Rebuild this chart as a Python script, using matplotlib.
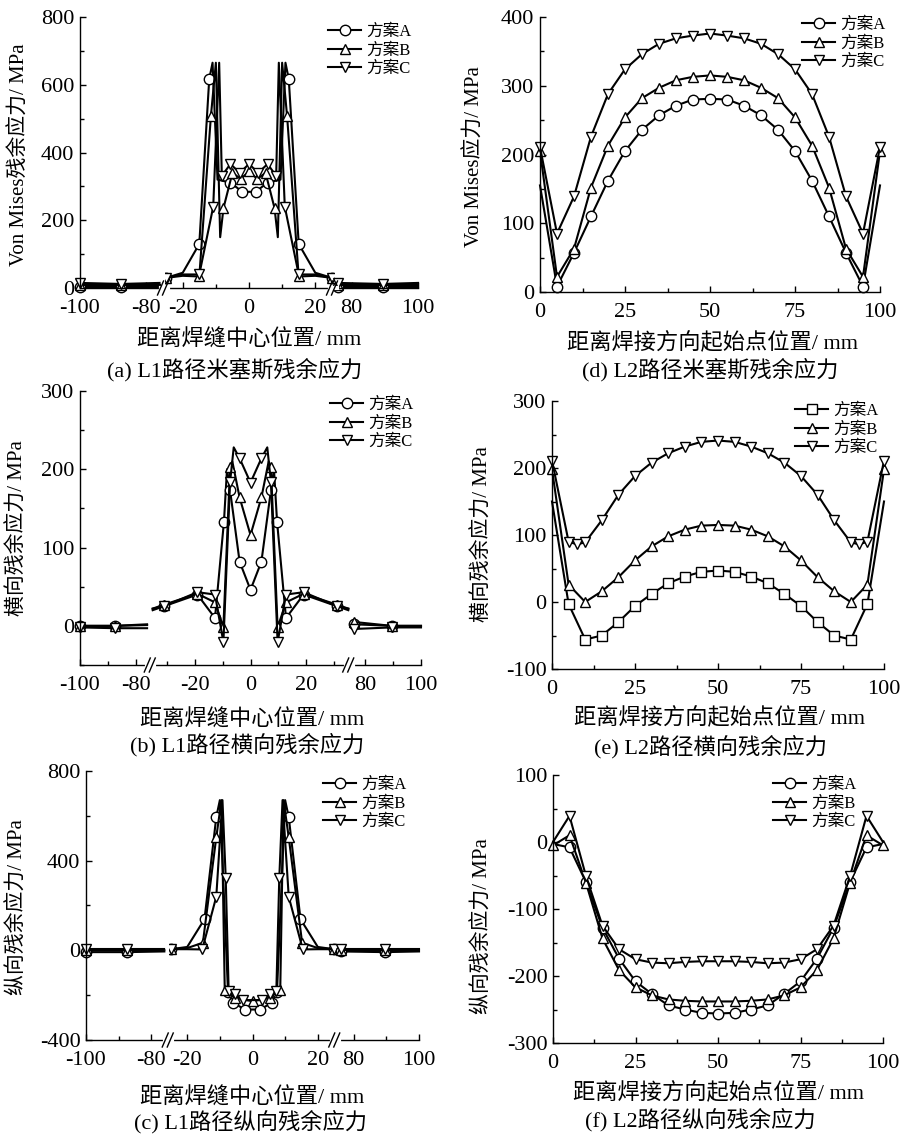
import numpy as np
import matplotlib
matplotlib.use('Agg')
import matplotlib.pyplot as plt
from matplotlib.lines import Line2D
from matplotlib.ticker import MultipleLocator

plt.rcParams['font.family'] = ['Liberation Serif', 'Noto Sans CJK SC']
plt.rcParams['axes.unicode_minus'] = False

labels = ['方案A', '方案B', '方案C']

# ---- L1 path (broken x axis) ----
# (a) Von Mises
a_x_A = [-100, -87.5, -76, -25, -20, -15, -12, -11, -9.5, -5.6, -2, 2, 5.6, 9.5, 11, 12, 15, 20, 25, 76, 89.5, 100]
a_v_A = [3, 3, 3, 30, 45, 130, 617, 665, 320, 311, 284, 284, 311, 320, 665, 617, 130, 45, 30, 3, 3, 3]
a_x_B = [-100, -87.5, -76, -25, -20, -15, -11.5, -10, -8.7, -7.7, -5, -2.5, 0, 2.5, 5, 7.7, 8.7, 10, 11.5, 15, 20, 25, 76, 89.5, 100]
a_v_B = [9, 9, 9, 30, 36, 34, 507, 665, 150, 236, 340, 322, 344, 322, 340, 236, 150, 665, 507, 34, 36, 30, 9, 9, 9]
a_x_C = [-100, -87.5, -76, -25, -20, -15, -10.8, -9, -8.2, -5.6, -2.8, 0, 2.8, 5.6, 8.2, 9, 10.8, 15, 20, 25, 76, 89.5, 100]
a_v_C = [15, 12, 15, 30, 40, 40, 240, 665, 331, 366, 340, 366, 340, 366, 331, 665, 240, 40, 40, 30, 15, 12, 15]
a_unmarked = [[-76, -20, -11, -9.5, 9.5, 11, 20, 100],
              [-76, -20, -10, -8.7, 8.7, 10, 20, 100],
              [-76, -20, -9, 9, 20, 100]]

# (b) transverse
b_x_A = [-100, -87.5, -76, -35, -31, -19, -12.7, -9.5, -8.4, -7.3, -3.9, 0, 3.9, 7.3, 8.4, 9.5, 12.7, 19, 31, 35, 76, 89.5, 100]
b_v_A = [0, 0, 1, 20, 25, 40, 10, 133, 200, 173, 82, 46, 82, 173, 200, 133, 10, 40, 25, 20, 2, 0, 0]
b_x_B = [-100, -87.5, -76, -35, -31, -19, -12.7, -9.7, -7.3, -6.5, -3.9, 0, 3.9, 6.5, 7.3, 9.7, 12.7, 19, 31, 35, 76, 89.5, 100]
b_v_B = [0, 0, 2, 22, 27, 41, 30, -2, 203, 210, 164, 116, 164, 210, 203, -2, 30, 41, 27, 22, 5, 0, 0]
b_x_C = [-100, -87.5, -76, -35, -31, -19, -12.7, -9.7, -7.3, -6, -3.9, 0, 3.9, 6, 7.3, 9.7, 12.7, 19, 31, 35, 76, 89.5, 100]
b_v_C = [-2, -3, -3, 22, 25, 43, 40, -21, 184, 228, 214, 183, 214, 228, 184, -21, 40, 43, 25, 22, -4, -2, -2]
b_unmarked = [[-76, -35, -8.4, 8.4, 35, 100],
              [-76, -35, -6.5, 6.5, 35, 100],
              [-76, -35, -6, 6, 35, 100]]

# (c) longitudinal
c_x_A = [-100, -87.5, -76, -25, -20, -14.7, -11.1, -10, -7.5, -5.9, -2.3, 2.3, 5.9, 7.5, 10, 11.1, 14.7, 20, 25, 76, 89.5, 100]
c_v_A = [-8, -8, -5, 5, 15, 139, 594, 670, -185, -234, -264, -264, -234, -185, 670, 594, 139, 15, 5, -5, -8, -5]
c_x_B = [-100, -87.5, -76, -25, -20, -15.2, -11.1, -9.5, -8.5, -5.4, 0, 5.4, 8.5, 9.5, 11.1, 15.2, 20, 25, 76, 89.5, 100]
c_v_B = [0, 0, 2, 5, 10, 34, 504, 670, -175, -212, -227, -212, -175, 670, 504, 34, 10, 5, 2, 0, 0]
c_x_C = [-100, -87.5, -76, -25, -20, -15.4, -11.1, -9.2, -8.2, -7.3, -5.5, -2.8, 2.8, 5.5, 7.3, 8.2, 9.2, 11.1, 15.4, 20, 25, 76, 89.5, 100]
c_v_C = [5, 5, 5, 5, 5, 4, 239, 670, 322, -182, -197, -222, -222, -197, -182, 322, 670, 239, 4, 5, 5, 5, 5, 5]
c_unmarked = [[-76, -20, -10, 10, 20, 100],
              [-76, -20, -9.5, 9.5, 20, 100],
              [-76, -20, -9.2, 9.2, 20, 100]]

# ---- L2 path ----
l2_x = [0, 5, 10, 15, 20, 25, 30, 35, 40, 45, 50, 55, 60, 65, 70, 75, 80, 85, 90, 95, 100]
d_A = [155, 8, 57, 110, 162, 205, 236, 257, 271, 280, 281, 280, 271, 257, 236, 205, 162, 110, 57, 8, 155]
d_B = [205, 22, 63, 152, 213, 254, 282, 297, 308, 313, 315, 313, 308, 297, 282, 254, 213, 152, 63, 22, 205]
d_C = [211, 85, 139, 226, 288, 324, 346, 361, 369, 373, 376, 373, 369, 361, 346, 324, 288, 226, 139, 85, 211]

e_A = [150, -3, -56, -50, -30, -6, 12, 28, 38, 45, 47, 45, 38, 28, 12, -6, -30, -50, -56, -3, 150]
e_B = [198, 26, 0, 16, 37, 62, 83, 98, 108, 114, 115, 114, 108, 98, 83, 62, 37, 16, 0, 26, 198]
e_x_C = [0, 5, 7.5, 10, 15, 20, 25, 30, 35, 40, 45, 50, 55, 60, 65, 70, 75, 80, 85, 90, 92.5, 95, 100]
e_C = [211, 90, 86, 89, 122, 160, 188, 208, 222, 232, 239, 241, 239, 232, 222, 208, 188, 160, 122, 89, 86, 90, 211]

f_A = [-3, -8, -60, -128, -174, -208, -227, -244, -250, -255, -256, -255, -250, -244, -227, -208, -174, -128, -60, -8, -3]
f_B = [-5, 10, -61, -144, -191, -217, -229, -235, -237, -238, -238, -238, -237, -235, -229, -217, -191, -144, -61, 10, -5]
f_C = [0, 39, -51, -125, -160, -175, -180, -181, -179, -178, -178, -178, -179, -181, -180, -175, -160, -125, -51, 39, 0]

FW, FH = 905, 1140
fig = plt.figure(figsize=(FW / 100, FH / 100), dpi=100)

line_kw = dict(color='black', lw=1.5, ms=7.5, mfc='white', mec='black', mew=1.0)
TICK_FS = 16
LAB_FS = 16


def rect(l, t, r, b):
    return [l / FW, 1 - b / FH, (r - l) / FW, (b - t) / FH]


def fxy(x, y):
    return x / FW, 1 - y / FH


def style_axis(ax, left=True):
    for s in ('top', 'right'):
        ax.spines[s].set_visible(False)
    ax.spines['bottom'].set_linewidth(1.0)
    ax.spines['left'].set_linewidth(1.0)
    if not left:
        ax.spines['left'].set_visible(False)
        ax.tick_params(axis='y', which='both', left=False, labelleft=False)
    ax.tick_params(which='both', direction='in', labelsize=TICK_FS, width=1.0)
    ax.tick_params(axis='x', which='both', pad=8)
    ax.tick_params(axis='y', which='both', pad=4)
    ax.tick_params(which='major', length=4)
    ax.tick_params(which='minor', length=3)
    ax.patch.set_alpha(0)


def add_legend(markers, x, y):
    handles = [Line2D([], [], marker=m, **line_kw) for m in markers]
    fig.legend(handles, labels, loc='upper left', bbox_to_anchor=fxy(x, y),
               frameon=False, fontsize=12, handlelength=2.0, handletextpad=0.3,
               labelspacing=0.15, borderpad=0, borderaxespad=0, numpoints=1)


def broken_panel(l, t, r, b, segs, ylim, ystep, series, unmarked, markers):
    total = sum(hi - lo for lo, hi in segs)
    x0 = l
    joints = []
    for i, (lo, hi) in enumerate(segs):
        w = (r - l) * (hi - lo) / total
        ax = fig.add_axes(rect(x0, t, x0 + w, b))
        ax.set_xlim(lo, hi)
        ax.set_ylim(*ylim)
        style_axis(ax, left=(i == 0))
        ax.xaxis.set_major_locator(MultipleLocator(20))
        ax.xaxis.set_minor_locator(MultipleLocator(10))
        ax.yaxis.set_major_locator(MultipleLocator(ystep))
        ax.yaxis.set_minor_locator(MultipleLocator(ystep / 2))
        for (xs, vs), um, mk in zip(series, unmarked, markers):
            xs = np.asarray(xs, float)
            vs = np.asarray(vs, float)
            m = (xs >= lo - 1e-9) & (xs <= hi + 1e-9)
            mark = list(~np.isin(xs[m], um))
            ax.plot(xs[m], vs[m], marker=mk, markevery=mark,
                    clip_on=(i == 1), **line_kw)
        x0 += w
        if i < len(segs) - 1:
            joints.append(x0)
    # "//" break marks on the bottom axis
    for xj in joints:
        fig.add_artist(Line2D([fxy(xj - 4, b)[0], fxy(xj + 3, b)[0]], [fxy(0, b)[1]] * 2,
                              color='white', lw=3, transform=fig.transFigure, zorder=10))
        for dx in (-4, 1):
            p0 = fxy(xj + dx - 3, b + 7)
            p1 = fxy(xj + dx + 3, b - 7)
            fig.add_artist(Line2D([p0[0], p1[0]], [p0[1], p1[1]], color='black', lw=1.0,
                                  transform=fig.transFigure, zorder=11))


def plain_panel(l, t, r, b, ylim, ystep, series, markevery, markers):
    ax = fig.add_axes(rect(l, t, r, b))
    ax.set_xlim(0, 100)
    ax.set_ylim(*ylim)
    style_axis(ax)
    ax.xaxis.set_major_locator(MultipleLocator(25))
    ax.xaxis.set_minor_locator(MultipleLocator(12.5))
    ax.yaxis.set_major_locator(MultipleLocator(ystep))
    ax.yaxis.set_minor_locator(MultipleLocator(ystep / 2))
    for (xs, vs), me, mk in zip(series, markevery, markers):
        ax.plot(xs, vs, marker=mk, markevery=me, clip_on=False, **line_kw)
    return ax


mk3 = ['o', '^', 'v']
inner = slice(1, -1)

# (a)
broken_panel(80, 17, 418, 288, [(-100, -74.5), (-25.5, 25.5), (74.5, 100)], (0, 800), 200,
             [(a_x_A, a_v_A), (a_x_B, a_v_B), (a_x_C, a_v_C)], a_unmarked, mk3)
add_legend(mk3, 328, 24)
# (b)
broken_panel(80, 391, 421, 665, [(-100, -74.5), (-35.5, 35.5), (74.5, 100)], (-50, 300), 100,
             [(b_x_A, b_v_A), (b_x_B, b_v_B), (b_x_C, b_v_C)], b_unmarked, mk3)
add_legend(mk3, 330, 397)
# (c)
broken_panel(86, 771, 419, 1040, [(-100, -74.5), (-25.5, 25.5), (74.5, 100)], (-400, 800), 400,
             [(c_x_A, c_v_A), (c_x_B, c_v_B), (c_x_C, c_v_C)], c_unmarked, mk3)
add_legend(mk3, 323, 777)

# (d)
plain_panel(540, 17, 880, 292, (0, 400), 100,
            [(l2_x, d_A), (l2_x, d_B), (l2_x, d_C)], [inner, None, None], mk3)
add_legend(mk3, 802, 17)
# (e)
plain_panel(552, 401, 884, 669, (-100, 300), 100,
            [(l2_x, e_A), (l2_x, e_B), (e_x_C, e_C)], [inner, None, None], ['s', '^', 'v'])
add_legend(['s', '^', 'v'], 795, 403)
# (f)
plain_panel(553, 775, 883, 1043, (-300, 100), 100,
            [(l2_x, f_A), (l2_x, f_B), (l2_x, f_C)], [inner, None, inner], mk3)
add_legend(mk3, 773, 777)

# axis titles and captions
ylabels = [('Von Mises残余应力/ MPa', 20, 155), ('Von Mises应力/ MPa', 475, 157),
           ('横向残余应力/ MPa', 18, 528), ('横向残余应力/ MPa', 483, 534),
           ('纵向残余应力/ MPa', 18, 907), ('纵向残余应力/ MPa', 483, 926)]
for s, x, y in ylabels:
    fig.text(*fxy(x, y), s, rotation=90, ha='center', va='center', fontsize=15)

xlabels = [('距离焊缝中心位置/ mm', 249, 340), ('距离焊接方向起始点位置/ mm', 712, 343),
           ('距离焊缝中心位置/ mm', 252, 720), ('距离焊接方向起始点位置/ mm', 719, 718),
           ('距离焊缝中心位置/ mm', 252, 1098), ('距离焊接方向起始点位置/ mm', 718, 1093)]
for s, x, y in xlabels:
    fig.text(*fxy(x, y), s, ha='center', va='center', fontsize=LAB_FS)

captions = [('(a) L1路径米塞斯残余应力', 235, 370), ('(d) L2路径米塞斯残余应力', 710, 370),
            ('(b) L1路径横向残余应力', 247, 745), ('(e) L2路径横向残余应力', 710, 747),
            ('(c) L1路径纵向残余应力', 250, 1122), ('(f) L2路径纵向残余应力', 700, 1120)]
for s, x, y in captions:
    fig.text(*fxy(x, y), s, ha='center', va='center', fontsize=LAB_FS)

fig.savefig('out.png', dpi=100)
